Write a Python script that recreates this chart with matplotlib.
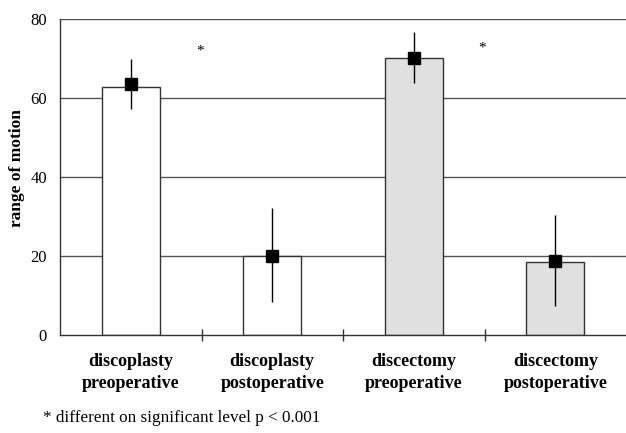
import matplotlib
matplotlib.use("Agg")
import matplotlib.pyplot as plt
import numpy as np

categories = ["discoplasty\npreoperative", "discoplasty\npostoperative",
              "discectomy\npreoperative", "discectomy\npostoperative"]
bar_values = [62.9, 20.1, 70.1, 18.6]
means = [63.6, 20.0, 70.1, 18.8]
err_low = [6.5, 11.7, 6.2, 11.4]
err_high = [6.4, 12.2, 6.7, 11.6]
bar_colors = ["white", "white", "#e0e0e0", "#e0e0e0"]
yticks = [0, 20, 40, 60, 80]
star_pos = [(0.49, 71.8), (2.48, 72.6)]

plt.rcParams['font.family'] = ['Liberation Serif', 'DejaVu Serif']

fig = plt.figure(figsize=(6.26, 4.33), dpi=100)
ax = fig.add_axes([60/626, 1-335/433, 566/626, 316/433])

x = np.arange(len(categories))
for yv in yticks[1:]:
    ax.axhline(yv, color="#555555", lw=1.0, zorder=0.5)
ax.bar(x, bar_values, width=0.41, color=bar_colors, edgecolor="#333333", lw=1.0, zorder=2)
ax.errorbar(x, means, yerr=[err_low, err_high], fmt="s", color="black",
            ms=8.5, elinewidth=1.0, capsize=0, zorder=3)
for sx, sy in star_pos:
    ax.text(sx, sy, "*", ha="center", va="center", fontsize=11)

ax.set_xlim(-0.5, 3.5)
ax.set_ylim(0, 80)
ax.set_yticks(yticks)
ax.tick_params(axis="y", length=0, pad=9.5, labelsize=12)
ax.set_xticks(x)
ax.set_xticklabels(categories, fontweight="bold", fontsize=13, linespacing=1.4)
ax.tick_params(axis="x", length=0, pad=13)
ax.set_xticks([0.5, 1.5, 2.5], minor=True)
ax.tick_params(axis="x", which="minor", length=9, direction="inout", width=1, color="#333333")
for s in ["top", "right"]:
    ax.spines[s].set_visible(False)
for s in ["left", "bottom"]:
    ax.spines[s].set_color("#333333")
    ax.spines[s].set_linewidth(1.0)
ax.set_ylabel("range of motion", fontweight="bold", fontsize=12.5)
ax.yaxis.set_label_coords(-35/566, (335-168.5)/316)

fig.text(43/626, 1-418/433, "* different on significant level p < 0.001", fontsize=12.3, va="center")
fig.savefig("out.png", dpi=100)
